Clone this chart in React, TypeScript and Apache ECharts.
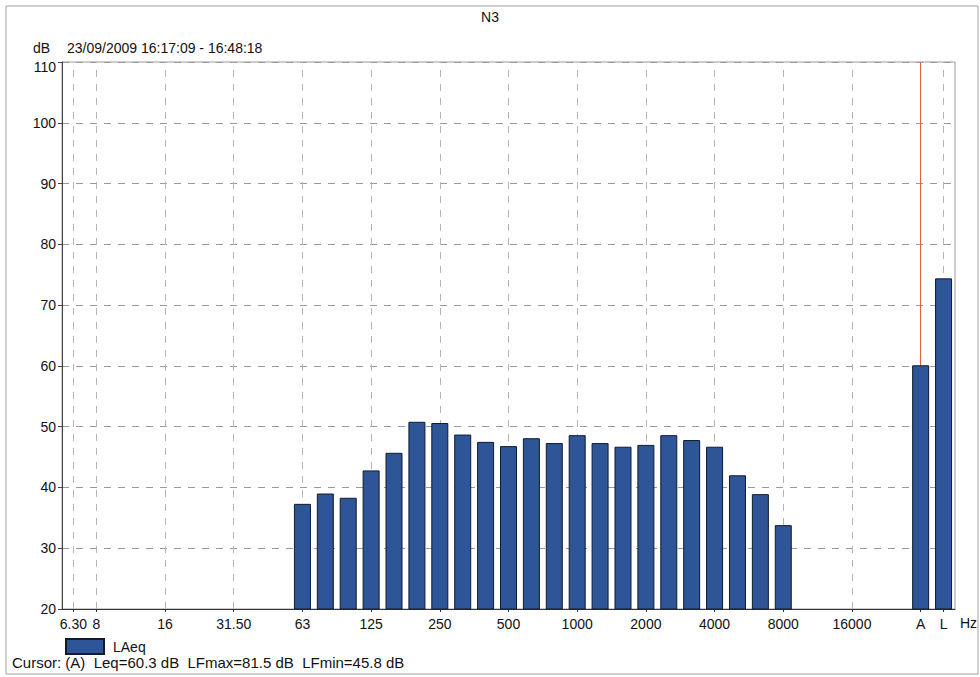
import React, { useEffect, useRef } from "react";
import * as echarts from "echarts";

const categories = ["6.3","8","10","12.5","16","20","25","31.5","40","50","63","80","100","125","160","200","250","315","400","500","630","800","1000","1250","1600","2000","2500","3150","4000","5000","6300","8000","10000","12500","16000","20000","gap","A","L"];
const bandNames = ["63","80","100","125","160","200","250","315","400","500","630","800","1000","1250","1600","2000","2500","3150","4000","5000","6300","8000"];
const bandValues = [37.3,39.0,38.3,42.8,45.7,50.8,50.6,48.7,47.5,46.8,48.1,47.3,48.6,47.3,46.7,47.0,48.6,47.8,46.7,42.0,38.9,33.8];
const totalNames = ["A","L"];
const totalValues = [60.1,74.4];
const labeledBands = ["6.3","8","16","31.5","63","125","250","500","1000","2000","4000","8000","16000","A","L"];
const labelTexts = ["6.30","8","16","31.50","63","125","250","500","1000","2000","4000","8000","16000","A","L"];
const gridBands = ["6.3","8","16","31.5","63","125","250","500","1000","2000","4000","8000","16000","L"];
const cursorBand = "A";
const yTicks = { min: 20, max: 110, interval: 10 };

export default function App() {
  const ref = useRef<HTMLDivElement>(null);
  useEffect(() => {
    document.body.style.margin = "0";
    const chart = echarts.init(ref.current!, null, { renderer: "svg" });
    const valueMap: Record<string, number> = {};
    bandNames.forEach((n, i) => (valueMap[n] = bandValues[i]));
    totalNames.forEach((n, i) => (valueMap[n] = totalValues[i]));
    const data = categories.map((c) => (c in valueMap ? valueMap[c] : null));
    const labelMap: Record<string, string> = {};
    labeledBands.forEach((b, i) => (labelMap[b] = labelTexts[i]));
    const font = "Liberation Sans, Arial, sans-serif";
    const fs = 14;

    chart.setOption({
      animation: false,
      backgroundColor: "#ffffff",
      textStyle: { fontFamily: font },
      grid: { left: 62, right: 25, top: 62, bottom: 68, show: true, borderColor: "#9a9a9a", borderWidth: 1 },
      legend: {
        show: true,
        left: 60,
        top: 633,
        itemWidth: 38,
        itemHeight: 15,
        icon: "rect",
        textStyle: { fontSize: fs, color: "#111", fontFamily: font, padding: [0, 0, 0, 4] },
        data: ["LAeq"],
      },
      xAxis: {
        type: "category",
        data: categories,
        axisLine: { lineStyle: { color: "#333" } },
        axisTick: {
          show: true,
          alignWithLabel: true,
          length: 3,
          interval: (i: number, v: string) => v in labelMap,
          lineStyle: { color: "#333" },
        },
        axisLabel: {
          interval: 0,
          fontSize: fs,
          color: "#111",
          margin: 8,
          formatter: (v: string) => labelMap[v] ?? "",
        },
        splitLine: { show: false },
      },
      yAxis: {
        type: "value",
        min: yTicks.min,
        max: yTicks.max,
        interval: yTicks.interval,
        axisLine: { show: true, lineStyle: { color: "#444" } },
        axisTick: { show: true, length: 4, lineStyle: { color: "#444" } },
        axisLabel: {
          fontSize: fs,
          color: "#111",
          margin: 6,
          formatter: (v: number) => (v === yTicks.max ? "{top|" + v + "}" : String(v)),
          rich: { top: { fontSize: fs, color: "#111", padding: [10, 0, 0, 0] } },
        },
        splitLine: { show: true, lineStyle: { color: "#9a9a9a", type: [7, 7] } },
      },
      series: [
        {
          name: "grid",
          type: "line",
          data: categories.map(() => null),
          z: 1,
          silent: true,
          showSymbol: false,
          markLine: {
            silent: true,
            z: 1,
            symbol: "none",
            label: { show: false },
            data: [
              ...gridBands.map((b) => ({ xAxis: b, lineStyle: { color: "#b5b5b5", type: [7, 7], width: 1 } })),
              { xAxis: cursorBand, lineStyle: { color: "#e0603a", type: "solid", width: 1 } },
            ],
          },
        },
        {
          name: "LAeq",
          type: "bar",
          data,
          z: 3,
          barWidth: 17,
          itemStyle: { color: "#2d5597", borderColor: "#111a2e", borderWidth: 1 },
        },
      ],
      graphic: [
        { type: "rect", silent: true, shape: { x: 6, y: 6, width: 972, height: 668 }, style: { fill: "none", stroke: "#a0a0a0", lineWidth: 1 } },
        { type: "text", left: "center", top: 10, style: { text: "N3", fontSize: fs, fill: "#111", fontFamily: font } },
        { type: "text", x: 33, y: 41, style: { text: "dB", fontSize: fs, fill: "#111", fontFamily: font } },
        { type: "text", x: 67, y: 41, style: { text: "23/09/2009 16:17:09 - 16:48:18", fontSize: fs, fill: "#111", fontFamily: font } },
        { type: "text", x: 960, y: 616, style: { text: "Hz", fontSize: fs, fill: "#111", fontFamily: font } },
        { type: "text", x: 12, y: 655, style: { text: "Cursor: (A)  Leq=60.3 dB  LFmax=81.5 dB  LFmin=45.8 dB", fontSize: 15, fill: "#111", fontFamily: font } },
      ],
    });
    return () => chart.dispose();
  }, []);
  return <div ref={ref} style={{ width: 980, height: 677 }} />;
}
